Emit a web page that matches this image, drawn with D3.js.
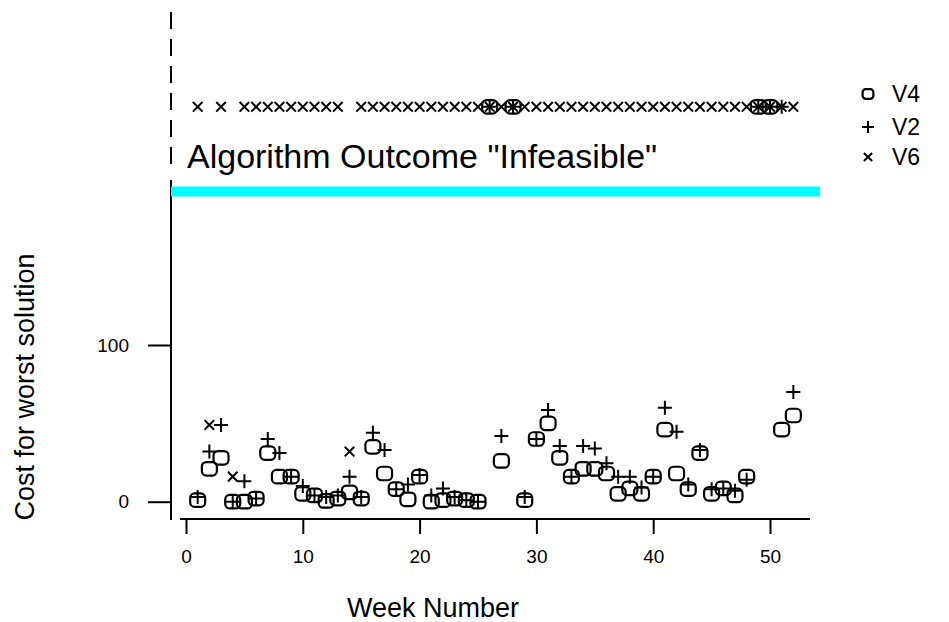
<!DOCTYPE html>
<html>
<head>
<meta charset="utf-8">
<script src="https://cdn.jsdelivr.net/npm/d3@7"></script>
<style>
  html, body { margin: 0; padding: 0; background: #fff; }
  svg { display: block; }
  text { font-family: "Liberation Sans", Arial, sans-serif; fill: #000; }
</style>
</head>
<body>
<svg id="chart" width="949" height="622"></svg>
<script>
// ---- data (null = algorithm outcome "Infeasible") ----
const weeks = d3.range(1, 53);
const V4 = [1, 21, 28, 0, 0, 2, 31, 16, 16, 5, 4, 0.5, 2, 6, 2, 35, 18, 8, 1.5, 16,
            0, 1, 2, 1, 0, null, 26, null, 1, 40, 50, 28, 16, 21, 21, 18, 5, 8.5, 5, 16,
            46, 18, 8, 31, 5, 8.5, 4, 16, null, null, 46, 55];
const V2 = [3, 32, 49, 0, 13, 2, 40, 31, 16, 10, 4, 3, 4, 16, 3, 44, 33, 8, 11, 17,
            4, 8.5, 3, 1, 0, null, 42, null, 3, 40, 58.5, 35.5, 16, 35.5, 34, 24.5, 16, 16, 9, 16,
            60, 44.7, 11, 33, 8, 8.5, 7, 14, null, null, null, 70];
const V6 = [null, 49, null, 16, null, null, null, null, null, null, null, null, null, 32, null, null, null, null, null, null,
            null, null, null, null, null, null, null, null, null, null, null, null, null, null, null, null, null, null, null, null,
            null, null, null, null, null, null, null, null, null, null, null, null];
const seriesNames = ["V4", "V2", "V6"];
const xTicks = [0, 10, 20, 30, 40, 50];
const yTicks = [0, 100];
const infeasibleLine = 198;   // cyan threshold
const infeasibleLevel = 252;  // where infeasible outcomes are plotted
const labelText = 'Algorithm Outcome "Infeasible"';

// ---- scales ----
const svg = d3.select("#chart");
const x = d3.scaleLinear().domain([0, 50]).range([186, 770]);
const y = d3.scaleLinear().domain([0, 100]).range([501.7, 345]);

// ---- axes ----
const yAxisX = 171;
// broken (dashed) upper part of the y axis
svg.append("line").attr("x1", yAxisX).attr("x2", yAxisX)
  .attr("y1", 12).attr("y2", 170)
  .attr("stroke", "#000").attr("stroke-width", 2).attr("stroke-dasharray", "17,10");
svg.append("line").attr("x1", yAxisX).attr("x2", yAxisX)
  .attr("y1", 180).attr("y2", 520)
  .attr("stroke", "#000").attr("stroke-width", 2);

const yAxis = svg.append("g").attr("transform", `translate(${yAxisX},0)`)
  .call(d3.axisLeft(y).tickValues(yTicks).tickSize(23).tickPadding(19).tickFormat(d3.format("d")));
yAxis.select(".domain").remove();
yAxis.selectAll(".tick line").attr("stroke", "#000").attr("stroke-width", 2);
yAxis.selectAll(".tick text").style("font-size", "19px").attr("fill", "#000");

const xAxisY = 519;
svg.append("line").attr("x1", 180).attr("x2", 810)
  .attr("y1", xAxisY).attr("y2", xAxisY)
  .attr("stroke", "#000").attr("stroke-width", 2);
const xAxis = svg.append("g").attr("transform", `translate(0,${xAxisY})`)
  .call(d3.axisBottom(x).tickValues(xTicks).tickSize(15).tickPadding(16).tickFormat(d3.format("d")));
xAxis.select(".domain").remove();
xAxis.selectAll(".tick line").attr("stroke", "#000").attr("stroke-width", 2);
xAxis.selectAll(".tick text").style("font-size", "19px").attr("fill", "#000");

// axis titles
svg.append("text").attr("x", 433).attr("y", 617)
  .attr("text-anchor", "middle").style("font-size", "27px").text("Week Number");
svg.append("text").attr("transform", "translate(34,387) rotate(-90)")
  .attr("text-anchor", "middle").style("font-size", "27px").text("Cost for worst solution");

// infeasible threshold band + label
svg.append("line").attr("x1", yAxisX).attr("x2", 820)
  .attr("y1", y(infeasibleLine)).attr("y2", y(infeasibleLine))
  .attr("stroke", "#00ffff").attr("stroke-width", 10);
svg.append("text").attr("x", 187).attr("y", 168)
  .style("font-size", "34px").text(labelText);

// ---- markers ----
function drawMarker(g, type, cx, cy, s) {
  if (type === "V4") {
    const w = 15 * s, h = 13.5 * s;
    g.append("rect").attr("x", cx - w / 2).attr("y", cy - h / 2)
      .attr("width", w).attr("height", h).attr("rx", 4.5 * s)
      .attr("fill", "none").attr("stroke", "#000").attr("stroke-width", 2.2);
  } else if (type === "V2") {
    const r = 7 * s;
    g.append("path").attr("d", `M${cx - r},${cy}H${cx + r}M${cx},${cy - r}V${cy + r}`)
      .attr("stroke", "#000").attr("stroke-width", 2).attr("fill", "none");
  } else {
    const r = 4.8 * s;
    g.append("path").attr("d", `M${cx - r},${cy - r}L${cx + r},${cy + r}M${cx - r},${cy + r}L${cx + r},${cy - r}`)
      .attr("stroke", "#000").attr("stroke-width", 2).attr("fill", "none");
  }
}

const data = { V4, V2, V6 };
const marks = svg.append("g");
seriesNames.forEach(name => {
  data[name].forEach((v, i) => {
    const val = v === null ? infeasibleLevel : v;
    drawMarker(marks, name, x(weeks[i]), y(val), 1);
  });
});

// ---- legend ----
const legend = svg.append("g");
const legendY = [94, 127, 157];
seriesNames.forEach((name, i) => {
  drawMarker(legend, name, 868, legendY[i], name === "V4" ? 0.72 : 0.85);
  legend.append("text").attr("x", 892).attr("y", legendY[i]).attr("dy", "0.36em")
    .style("font-size", "23px").text(name);
});
</script>
</body>
</html>
